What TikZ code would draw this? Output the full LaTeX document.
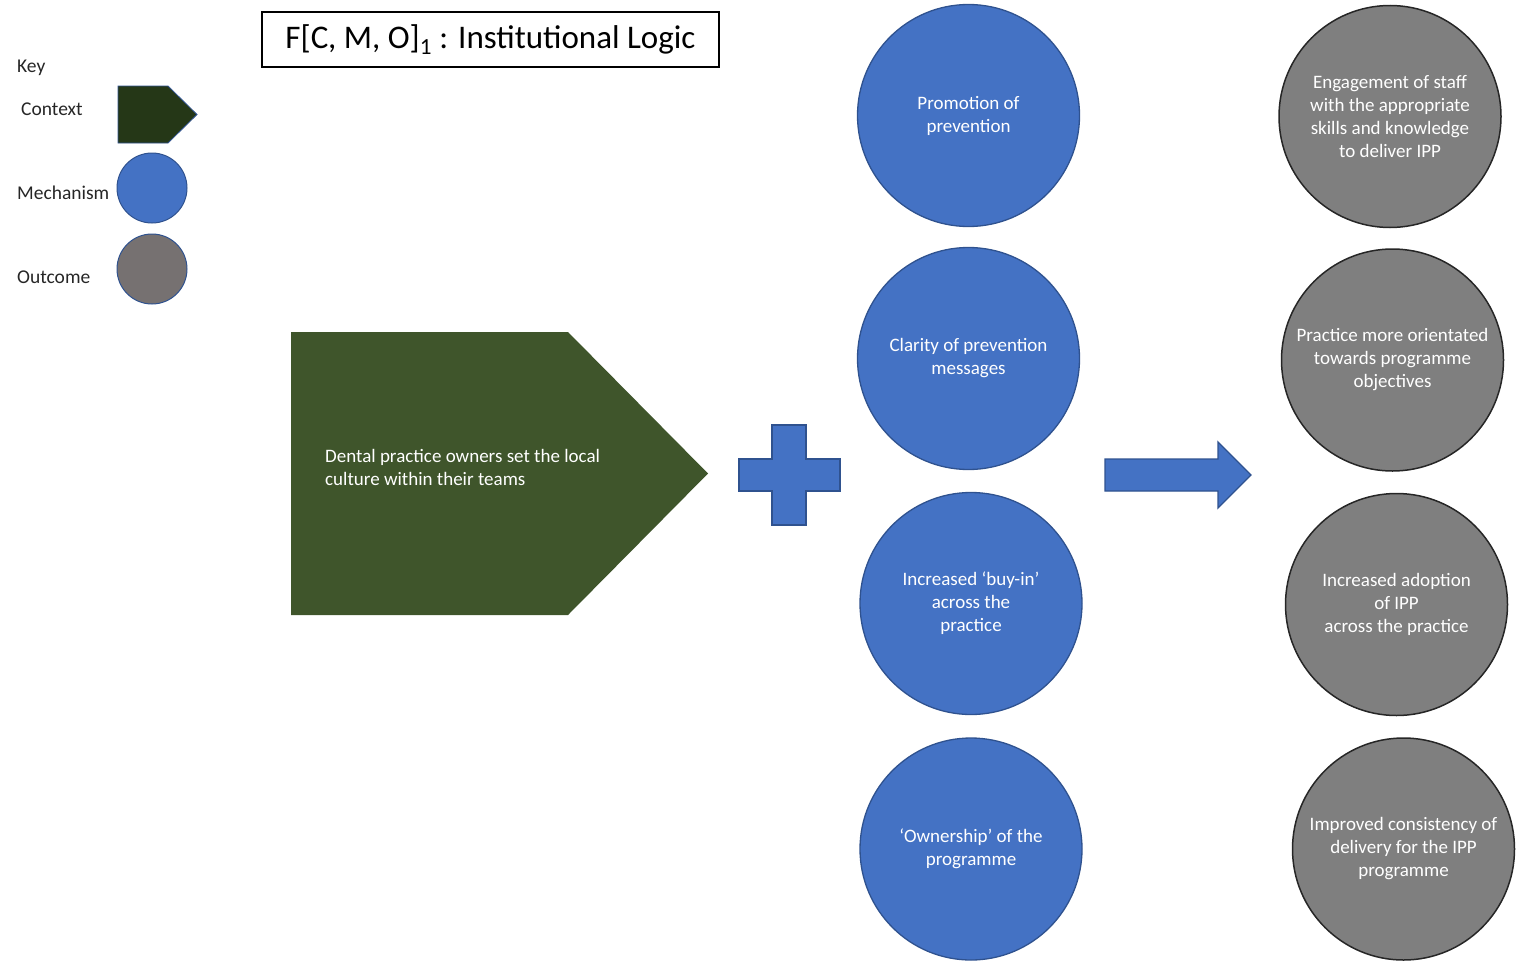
\documentclass[tikz,border=0pt]{standalone}
\usepackage{fontspec}
\setmainfont{Carlito}
\definecolor{mechfill}{HTML}{4472C4}
\definecolor{mechline}{HTML}{2F528F}
\definecolor{outfill}{HTML}{7F7F7F}
\definecolor{outline}{HTML}{262626}
\definecolor{keyout}{HTML}{767171}
\definecolor{ctxdark}{HTML}{253717}
\definecolor{ctxfill}{HTML}{3F552B}
\definecolor{keytext}{HTML}{262626}
\begin{document}
\begin{tikzpicture}[x=1pt,y=-1pt,
  bodytext/.style={font=\fontsize{19}{23}\selectfont, text=white, align=center},
  mech/.style={circle, minimum size=222pt, inner sep=0pt, fill=mechfill, draw=mechline, line width=1.3pt, bodytext},
  outc/.style={circle, minimum size=222pt, inner sep=0pt, fill=outfill, draw=outline, line width=1.5pt, bodytext},
  keylabel/.style={font=\fontsize{19.5}{23}\selectfont, text=keytext, anchor=west, inner sep=0pt},
  keycircle/.style={circle, minimum size=70pt, inner sep=0pt, line width=1pt, draw=mechline}]
\useasboundingbox (0,0) rectangle (1522,961);

% key
\node[keylabel] (keyhead) at (17,68) {Key};
\node[keylabel] (keyctx) at (21,109) {Context};
\node[keylabel] (keymech) at (17,193) {Mechanism};
\node[keylabel] (keyout) at (17,277) {Outcome};
\draw[fill=ctxdark, draw=mechline, line width=0.8pt]
  (118,86) -- (168,86) -- (197,114.5) -- (168,143) -- (118,143) -- cycle;
\node[keycircle, fill=mechfill] (kmech) at (152,188) {};
\node[keycircle, fill=keyout] (kout) at (152,269) {};

% title
\node[draw=black, line width=1.3pt, minimum width=457pt, minimum height=55pt, inner sep=0pt,
  font=\fontsize{33}{38}\selectfont] (title) at (490.5,39.5)
  {\raisebox{-2pt}{F[C, M, O]\textsubscript{1} : Institutional Logic}};

% context
\fill[ctxfill] (291,332) -- (568,332) -- (708,473.5) -- (568,615) -- (291,615) -- cycle;
\node[bodytext, align=left, anchor=west, inner sep=0pt] (ctx) at (325,467)
  {Dental practice owners set the local\\culture within their teams};

% plus
\draw[fill=mechfill, draw=mechline, line width=1.3pt]
  (772,425) -- (806,425) -- (806,459) -- (840,459) -- (840,491) -- (806,491)
  -- (806,525) -- (772,525) -- (772,491) -- (739,491) -- (739,459) -- (772,459) -- cycle;

% arrow
\draw[fill=mechfill, draw=mechline, line width=1.3pt]
  (1105,459) -- (1218,459) -- (1218,442) -- (1251,475) -- (1218,508) -- (1218,491)
  -- (1105,491) -- cycle;

% mechanisms
\node[mech] (m1) at (968.5,115.5) {Promotion of\\prevention};
\node[mech] (m2) at (968.5,358.5) {Clarity of prevention\\messages};
\node[mech] (m3) at (971,603.5) {Increased \textquoteleft buy-in\textquoteright\\across the\\practice};
\node[mech] (m4) at (971,849) {\textquoteleft Ownership' of the\\programme};

% outcomes
\node[outc] (o1) at (1390,116.5) {Engagement of staff\\with the appropriate\\skills and knowledge\\to deliver IPP};
\node[outc] (o2) at (1392.5,360) {Practice more orientated\\towards programme\\objectives};
\node[outc] (o3) at (1396.5,604.5) {Increased adoption\\of IPP\\across the practice};
\node[outc] (o4) at (1403.5,849) {Improved consistency of\\delivery for the IPP\\programme};
\end{tikzpicture}
\end{document}
